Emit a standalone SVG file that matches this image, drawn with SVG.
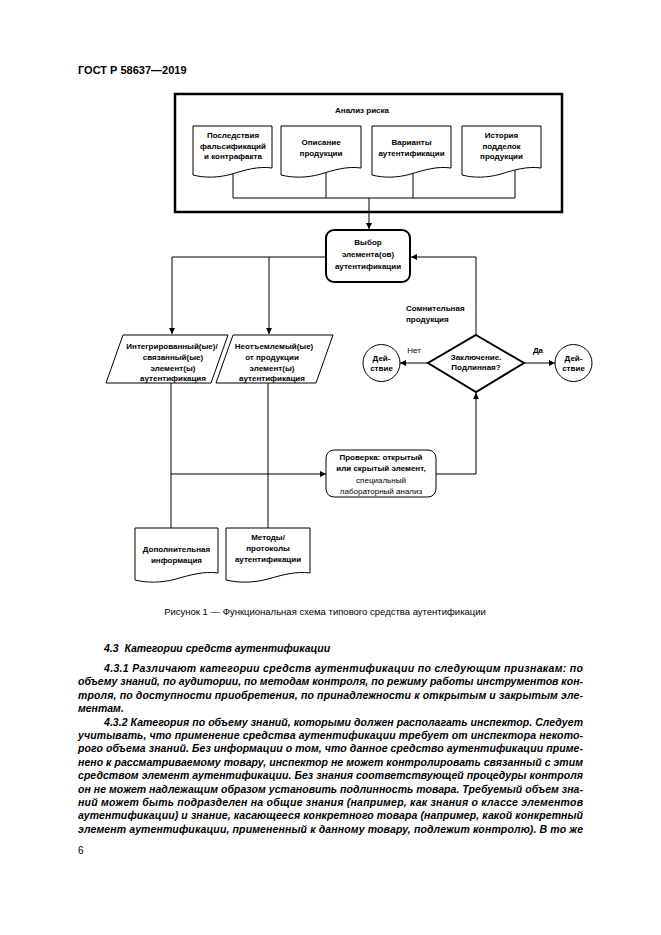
<svg xmlns="http://www.w3.org/2000/svg" width="661" height="935" viewBox="0 0 661 935">
<style>
.t{font-family:"Liberation Sans",Arial,sans-serif;font-size:8px;font-weight:bold;text-anchor:middle;fill:#000}
.tl{font-family:"Liberation Sans",Arial,sans-serif;font-size:8px;font-weight:bold;fill:#000}
.b{font-family:"Liberation Sans",Arial,sans-serif;font-size:10.5px;font-weight:bold;font-style:italic;fill:#000}
.s{fill:#fff;stroke:#000;stroke-width:1}
.l{fill:none;stroke:#000;stroke-width:1}
</style>
<defs>
<marker id="arr" markerUnits="userSpaceOnUse" markerWidth="7" markerHeight="6" refX="6" refY="3" orient="auto">
<path d="M0,0 L6,3 L0,6 Z" fill="#000"/>
</marker>
</defs>
<rect width="661" height="935" fill="#fff"/>
<text x="78" y="74" style="font-family:'Liberation Sans',Arial,sans-serif;font-size:11px;font-weight:bold">ГОСТ Р 58637—2019</text>

<g id="risk-analysis">
<rect x="175" y="94" width="387" height="118" fill="#fff" stroke="#000" stroke-width="2.5"/>
<text class="t" x="362" y="113">Анализ риска</text>
</g>

<g id="connectors">
<path class="l" d="M233,170 V198 M326,170 V198 M413,170 V198 M515,170 V198 M233,198 H515"/>
<path class="l" d="M369,198 V229" marker-end="url(#arr)"/>
<path class="l" d="M172,257 H326"/>
<path class="l" d="M172,257 V334" marker-end="url(#arr)"/>
<path class="l" d="M269,257 V334" marker-end="url(#arr)"/>
<path class="l" d="M476,336 V257 H411" marker-end="url(#arr)"/>
<path class="l" d="M428,363 H400" marker-end="url(#arr)"/>
<path class="l" d="M524,363 H555" marker-end="url(#arr)"/>
<path class="l" d="M171,383 V528 M268,383 V528"/>
<path class="l" d="M171,474 H326" marker-end="url(#arr)"/>
<path class="l" d="M436,474 H476 V393" marker-end="url(#arr)"/>
</g>

<g id="doc-consequences">
<path class="s" d="M193,126 H272 V168 C258,166 245,170 232,174 C218,178 204,178 193,175 Z"/>
<text class="t" x="233" y="138">Последствия</text>
<text class="t" x="233" y="148.5">фальсификаций</text>
<text class="t" x="233" y="159">и контрафакта</text>
</g>
<g id="doc-description">
<path class="s" d="M281,126 H361 V168 C347,166 334,170 321,174 C307,178 293,178 281,175 Z"/>
<text class="t" x="321" y="145">Описание</text>
<text class="t" x="321" y="155.5">продукции</text>
</g>
<g id="doc-variants">
<path class="s" d="M372,126 H451 V168 C437,166 424,170 411,174 C397,178 383,178 372,175 Z"/>
<text class="t" x="411.5" y="145">Варианты</text>
<text class="t" x="411.5" y="155.5">аутентификации</text>
</g>
<g id="doc-history">
<path class="s" d="M462,126 H541 V168 C527,166 514,170 501,174 C487,178 473,178 462,175 Z"/>
<text class="t" x="501.5" y="138">История</text>
<text class="t" x="501.5" y="148.5">подделок</text>
<text class="t" x="501.5" y="159">продукции</text>
</g>

<g id="choice">
<rect x="326" y="230" width="84" height="52" rx="8" fill="#fff" stroke="#000" stroke-width="2"/>
<text class="t" x="368" y="245">Выбор</text>
<text class="t" x="368" y="257">элемента(ов)</text>
<text class="t" x="368" y="269">аутентификации</text>
</g>

<g id="integrated">
<path class="s" d="M123,335 H228 L211,383 H106 Z"/>
<text class="t" x="172" y="349">Интегрированный(ые)/</text>
<text class="t" x="173" y="360">связанный(ые)</text>
<text class="t" x="173" y="371">элемент(ы)</text>
<text class="t" x="173" y="381">аутентификация</text>
</g>
<g id="inherent">
<path class="s" d="M233,335 H333 L316,383 H216 Z"/>
<text class="t" x="274" y="349">Неотъемлемый(ые)</text>
<text class="t" x="272" y="360">от продукции</text>
<text class="t" x="272" y="371">элемент(ы)</text>
<text class="t" x="272" y="381">аутентификация</text>
</g>

<g id="doubtful-label">
<text class="tl" x="406" y="311">Сомнительная</text>
<text class="tl" x="406" y="322">продукция</text>
</g>

<g id="decision">
<path d="M476,335 L524,363 L476,392 L428,363 Z" fill="#fff" stroke="#000" stroke-width="2"/>
<text class="t" x="476" y="360">Заключение.</text>
<text class="t" x="476" y="370">Подлинная?</text>
<text class="t" x="414" y="353" style="font-weight:normal">Нет</text>
<text class="t" x="538" y="353">Да</text>
</g>

<g id="action-no">
<circle class="s" cx="381.5" cy="363" r="18.5"/>
<text class="t" x="381.5" y="361">Дей-</text>
<text class="t" x="381.5" y="371">ствие</text>
</g>
<g id="action-yes">
<circle class="s" cx="573.5" cy="363" r="18.5"/>
<text class="t" x="573.5" y="361">Дей-</text>
<text class="t" x="573.5" y="371">ствие</text>
</g>

<g id="check">
<rect class="s" x="326" y="450" width="110" height="47" rx="8"/>
<text class="t" x="381" y="460">Проверка: открытый</text>
<text class="t" x="381" y="471">или скрытый элемент,</text>
<text class="t" x="381" y="483" style="font-weight:normal">специальный</text>
<text class="t" x="381" y="494" style="font-weight:normal">лабораторный анализ</text>
</g>

<g id="doc-additional">
<path class="s" d="M135,528 H218 V573 C204,571 190,575 176,579 C161,583 147,583 135,580 Z"/>
<text class="t" x="176.5" y="552">Дополнительная</text>
<text class="t" x="176.5" y="562.5">информация</text>
</g>
<g id="doc-methods">
<path class="s" d="M226,528 H310 V573 C296,571 282,575 268,579 C253,583 239,583 226,580 Z"/>
<text class="t" x="268" y="540">Методы/</text>
<text class="t" x="268" y="551">протоколы</text>
<text class="t" x="268" y="562">аутентификации</text>
</g>

<text x="325" y="615" style="font-family:'Liberation Sans',Arial,sans-serif;font-size:9.5px;text-anchor:middle">Рисунок 1 — Функциональная схема типового средства аутентификации</text>

<text class="b" x="104" y="652" xml:space="preserve">4.3  Категории средств аутентификации</text>
<text class="b" x="104" y="672" textLength="479" lengthAdjust="spacing">4.3.1 Различают категории средств аутентификации по следующим признакам: по</text>
<text class="b" x="78" y="685.4" textLength="505" lengthAdjust="spacing">объему знаний, по аудитории, по методам контроля, по режиму работы инструментов кон-</text>
<text class="b" x="78" y="698.8" textLength="505" lengthAdjust="spacing">троля, по доступности приобретения, по принадлежности к открытым и закрытым эле-</text>
<text class="b" x="78" y="712.2">ментам.</text>
<text class="b" x="104" y="725.6" textLength="479" lengthAdjust="spacing">4.3.2 Категория по объему знаний, которыми должен располагать инспектор. Следует</text>
<text class="b" x="78" y="739" textLength="505" lengthAdjust="spacing">учитывать, что применение средства аутентификации требует от инспектора некото-</text>
<text class="b" x="78" y="752.4" textLength="505" lengthAdjust="spacing">рого объема знаний. Без информации о том, что данное средство аутентификации приме-</text>
<text class="b" x="78" y="765.8" textLength="505" lengthAdjust="spacing">нено к рассматриваемому товару, инспектор не может контролировать связанный с этим</text>
<text class="b" x="78" y="779.2" textLength="505" lengthAdjust="spacing">средством элемент аутентификации. Без знания соответствующей процедуры контроля</text>
<text class="b" x="78" y="792.6" textLength="505" lengthAdjust="spacing">он не может надлежащим образом установить подлинность товара. Требуемый объем зна-</text>
<text class="b" x="78" y="806" textLength="505" lengthAdjust="spacing">ний может быть подразделен на общие знания (например, как знания о классе элементов</text>
<text class="b" x="78" y="819.4" textLength="505" lengthAdjust="spacing">аутентификации) и знание, касающееся конкретного товара (например, какой конкретный</text>
<text class="b" x="78" y="832.8" textLength="505" lengthAdjust="spacing">элемент аутентификации, примененный к данному товару, подлежит контролю). В то же</text>
<text x="78" y="854" style="font-family:'Liberation Sans',Arial,sans-serif;font-size:10px">6</text>
</svg>
